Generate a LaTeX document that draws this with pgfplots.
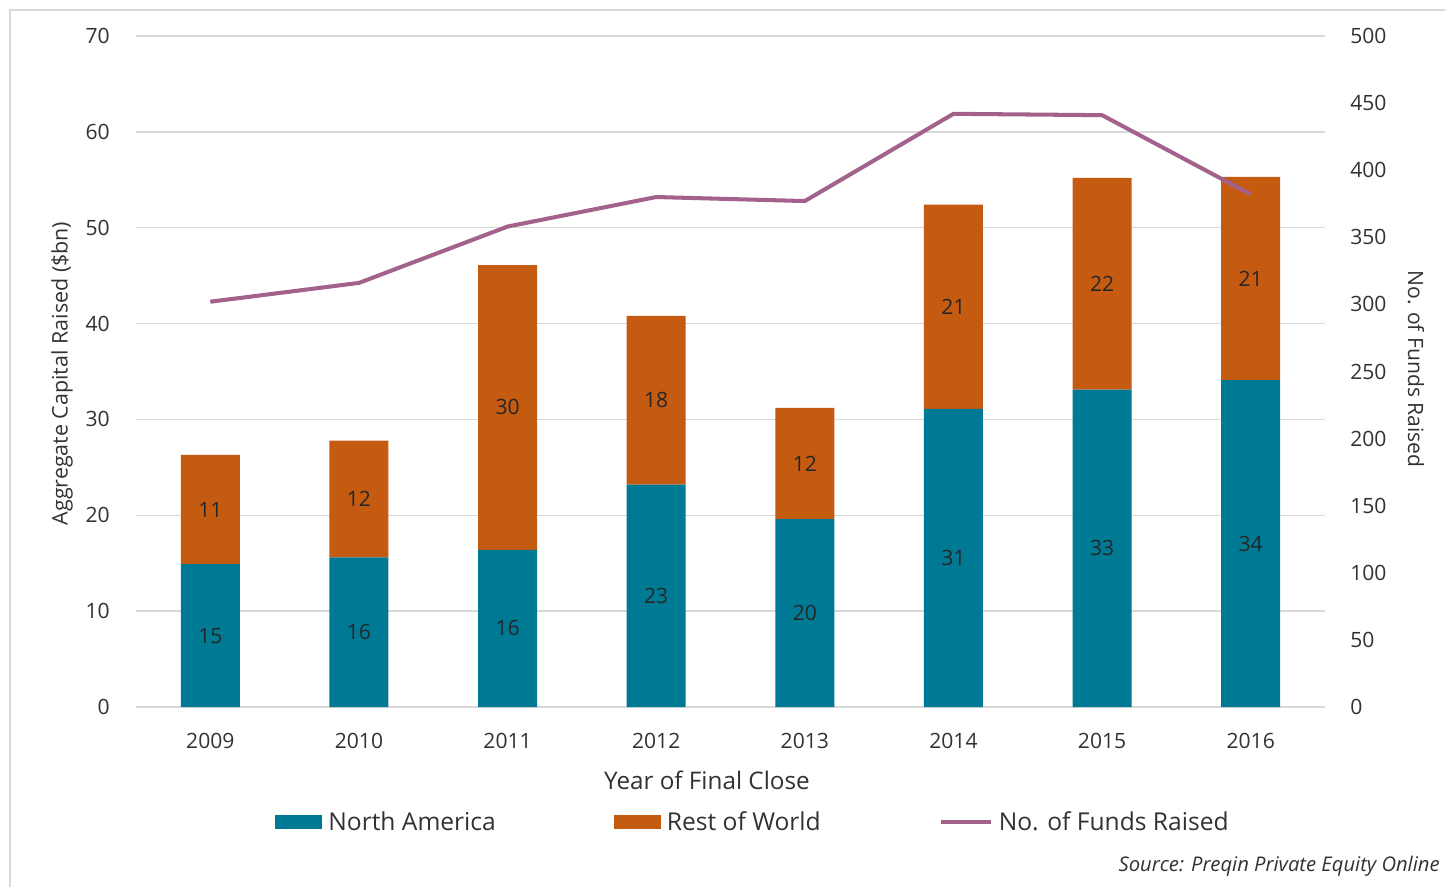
\documentclass[border=0pt]{standalone}
\usepackage{fontspec}
\setmainfont{Open Sans}
\usepackage{pgfplots}
\pgfplotsset{compat=1.18}
\usepackage{pgfplotstable}
\definecolor{na}{RGB}{0,122,148}
\definecolor{rw}{RGB}{197,90,17}
\definecolor{fund}{RGB}{163,98,140}
\definecolor{gridc}{RGB}{217,217,217}
\definecolor{txt}{RGB}{50,50,50}
\pgfplotsset{/pgf/number format/assume math mode=true}

% capital raised ($bn) and number of funds, by year of final close
\pgfplotstableread{
idx na   row  funds
0   14.9 11.4 302
1   15.6 12.2 316
2   16.4 29.7 358
3   23.2 17.6 380
4   19.6 11.6 377
5   31.1 21.3 442
6   33.1 22.1 441
7   34.1 21.2 382
}\capdata

\begin{document}
\begin{tikzpicture}
\useasboundingbox (0,0) rectangle (289mm,177.2mm);
\draw[gridc, line width=0.6pt] (2mm,-5mm) -- (2mm,175.2mm) -- (295mm,175.2mm);

\begin{axis}[
  at={(27.2mm,35.8mm)}, anchor=south west,
  scale only axis, width=237.8mm, height=134.2mm,
  xmin=-0.5, xmax=7.5, ymin=0, ymax=70,
  ytick={0,10,...,70},
  xtick={0,...,7},
  xticklabels={2009,2010,2011,2012,2013,2014,2015,2016},
  axis line style={draw=none},
  major tick length=0pt,
  ymajorgrids, grid style={gridc, line width=0.8pt},
  ybar stacked, bar width=11.8mm,
  tick label style={font=\fontsize{12}{14}\selectfont, text=txt, inner sep=0pt},
  yticklabel style={anchor=east, xshift=-5.2mm},
  xticklabel style={anchor=north, yshift=-5.1mm},
  label style={text=txt},
  xlabel={Year of Final Close},
  xlabel style={font=\fontsize{13.8}{16}\selectfont,
    at={(axis description cs:0.4802,-0.1088)}, anchor=center},
  ylabel={Aggregate Capital Raised (\$bn)},
  ylabel style={font=\fontsize{12.2}{14}\selectfont,
    at={(axis description cs:-0.0622,0.497)}, anchor=center},
  legend columns=3,
  legend style={at={(axis description cs:0.1169,-0.1714)}, anchor=west,
    draw=none, fill=none, inner sep=0pt,
    nodes={inner sep=0pt, text=txt, font=\fontsize{14}{16}\selectfont},
    /tikz/every odd column/.append style={column sep=1.2mm},
    /tikz/every even column/.append style={column sep=23.6mm}},
  nodes near coords={\pgfmathprintnumber[fixed,precision=0]{\pgfplotspointmeta}},
  every node near coord/.append style={anchor=center, font=\fontsize{12}{14}\selectfont,
    text=black!85},
]
\addplot[fill=na, draw=none, point meta=\thisrow{na},
  legend image code/.code={\fill[na] (0mm,-1.4mm) rectangle (9.4mm,1.4mm);}]
  table[x=idx, y=na] {\capdata};
\addlegendentry{North America}
\addplot[fill=rw, draw=none, point meta=\thisrow{row},
  legend image code/.code={\fill[rw] (0mm,-1.4mm) rectangle (9.4mm,1.4mm);}]
  table[x=idx, y=row] {\capdata};
\addlegendentry{Rest of World}
\addlegendimage{legend image code/.code={\draw[fund, line width=2.3pt] (0mm,0mm) -- (10mm,0mm);}}
\addlegendentry{No. of Funds Raised}
\end{axis}

\begin{axis}[
  at={(27.2mm,35.8mm)}, anchor=south west,
  scale only axis, width=237.8mm, height=134.2mm,
  xmin=-0.5, xmax=7.5, ymin=0, ymax=500,
  ytick={0,50,...,500},
  axis x line=none, axis y line*=right,
  axis line style={draw=none},
  major tick length=0pt,
  tick label style={font=\fontsize{12}{14}\selectfont, text=txt, inner sep=0pt},
  yticklabel style={anchor=west, xshift=5mm},
  ylabel={No. of Funds Raised},
  ylabel style={font=\fontsize{12}{14}\selectfont, text=txt,
    at={(axis description cs:1.0765,0.5037)}, anchor=center, rotate=180},
]
\addplot[fund, line width=2.3pt, line join=round, mark=none]
  table[x=idx, y=funds] {\capdata};
\end{axis}

\node[anchor=east, inner sep=0pt, text=txt, font=\itshape\fontsize{11.5}{13}\selectfont]
  at (288mm,4mm) {Source: Preqin Private Equity Online};
\end{tikzpicture}
\end{document}
